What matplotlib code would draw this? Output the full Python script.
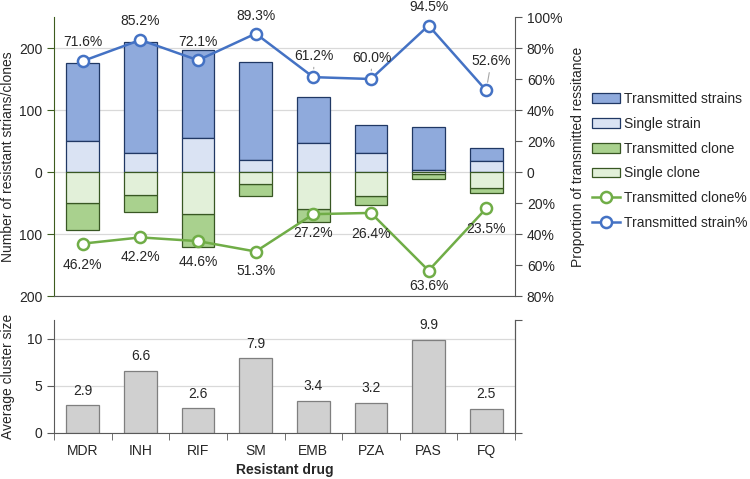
import numpy as np
import matplotlib

matplotlib.use("Agg")
import matplotlib.pyplot as plt
from matplotlib.ticker import FuncFormatter

plt.rcParams["font.family"] = ["Liberation Sans", "DejaVu Sans"]
plt.rcParams["font.size"] = 10
plt.rcParams["text.color"] = "#262626"
plt.rcParams["axes.labelcolor"] = "#262626"
plt.rcParams["xtick.color"] = "#262626"
plt.rcParams["ytick.color"] = "#262626"

drugs = ["MDR", "INH", "RIF", "SM", "EMB", "PZA", "PAS", "FQ"]
transmitted_strains = [126, 178, 142, 158, 74, 45, 69, 20]
single_strain = [50, 31, 55, 19, 47, 30, 4, 18]
transmitted_clone = [43, 27, 54, 20, 22, 14, 7, 8]
single_clone = [50, 37, 67, 19, 59, 39, 4, 26]
strain_pct = [71.6, 85.2, 72.1, 89.3, 61.2, 60.0, 94.5, 52.6]
clone_pct = [46.2, 42.2, 44.6, 51.3, 27.2, 26.4, 63.6, 23.5]
cluster_size = [2.9, 6.6, 2.6, 7.9, 3.4, 3.2, 9.9, 2.5]

# label offsets in pixels (dx, dy) and whether a leader line is drawn
strain_off = [(0, 19), (0, 19), (0, 18), (0, 18), (1, 21), (1, 21), (0, 19), (5, 29)]
strain_leader = [False, False, False, False, True, True, False, True]
clone_off = [(0, -21), (0, -20), (0, -21), (0, -19), (0, -19), (0, -21), (0, -15), (0, -21)]

C_TS, C_SS = "#8FAADC", "#DAE3F3"
C_TC, C_SC = "#A9D18E", "#E2F0D9"
E_BLUE, E_GREEN = "#203864", "#385723"
L_BLUE, L_GREEN = "#4472C4", "#70AD47"
GRID = "#D9D9D9"
SPINE = "#595959"

fig = plt.figure(figsize=(7.5, 4.79), dpi=100)
W, H = 750.0, 479.0
x0, x1 = 54, 515
ax = fig.add_axes([x0 / W, 1 - 296 / H, (x1 - x0) / W, (296 - 17) / H])
axb = fig.add_axes([x0 / W, 1 - 432.5 / H, (x1 - x0) / W, (432.5 - 320) / H])

x = np.arange(len(drugs))
bw = 0.57
ss = np.array(single_strain)
ts = np.array(transmitted_strains)
sc = np.array(single_clone)
tc = np.array(transmitted_clone)

ax.bar(x, ts, bw, bottom=ss, color=C_TS, edgecolor=E_BLUE, lw=0.9,
       label="Transmitted strains", zorder=2)
ax.bar(x, ss, bw, color=C_SS, edgecolor=E_BLUE, lw=0.9,
       label="Single strain", zorder=2)
ax.bar(x, -tc, bw, bottom=-sc, color=C_TC, edgecolor=E_GREEN, lw=0.9,
       label="Transmitted clone", zorder=2)
ax.bar(x, -sc, bw, color=C_SC, edgecolor=E_GREEN, lw=0.9,
       label="Single clone", zorder=2)

ax.set_xlim(-0.5, len(drugs) - 0.5)
ax.set_ylim(-200, 250)
ax.set_yticks([-200, -100, 0, 100, 200])
ax.yaxis.set_major_formatter(FuncFormatter(lambda v, p: "%d" % abs(v)))
ax.set_xticks([])
ax.grid(axis="y", color=GRID, lw=0.9, zorder=0)
ax.set_axisbelow(True)
ax.spines["top"].set_visible(False)
ax.spines["right"].set_visible(False)
ax.spines["left"].set_color("#3D5C1F")
ax.spines["bottom"].set_color(SPINE)
ax.tick_params(axis="y", colors="#3D5C1F", labelcolor="#262626", length=5)
ax.set_ylabel("Number of resistant strians/clones")
ax.yaxis.set_label_coords(-0.084, 0.5)

ax2 = ax.twinx()
ax2.set_ylim(-0.8, 1.0)
ax2.set_yticks(np.arange(-0.8, 1.01, 0.2))
ax2.yaxis.set_major_formatter(
    FuncFormatter(lambda v, p: "0" if abs(v) < 1e-9 else "%d%%" % round(abs(v) * 100)))
ax2.spines["top"].set_visible(False)
ax2.spines["left"].set_visible(False)
ax2.spines["bottom"].set_visible(False)
ax2.spines["right"].set_color(SPINE)
ax2.tick_params(axis="y", colors=SPINE, labelcolor="#262626", length=5)
ax2.set_ylabel("Proportion of transmitted ressitance")
ax2.yaxis.set_label_coords(1.122, 0.5)

sp = np.array(strain_pct) / 100
cp = -np.array(clone_pct) / 100
ax2.plot(x, cp, "-o", color=L_GREEN, lw=1.8, ms=8, mfc="white", mew=1.8,
         label="Transmitted clone%", zorder=3)
ax2.plot(x, sp, "-o", color=L_BLUE, lw=1.8, ms=8, mfc="white", mew=1.8,
         label="Transmitted strain%", zorder=3)

px2pt = 0.72
for i in range(len(drugs)):
    dx, dy = strain_off[i]
    arrow = None
    if strain_leader[i]:
        arrow = dict(arrowstyle="-", color="#A6A6A6", lw=0.8, shrinkA=1, shrinkB=6)
    ax2.annotate("%.1f%%" % strain_pct[i], (x[i], sp[i]),
                 xytext=(dx * px2pt, dy * px2pt), textcoords="offset points",
                 ha="center", va="center", arrowprops=arrow, zorder=4)
    dx, dy = clone_off[i]
    ax2.annotate("%.1f%%" % clone_pct[i], (x[i], cp[i]),
                 xytext=(dx * px2pt, dy * px2pt), textcoords="offset points",
                 ha="center", va="center", zorder=4)

# bottom panel
axb.bar(x, cluster_size, bw, color="#D0D0D0", edgecolor="#7F7F7F", lw=0.9, zorder=2)
for i, v in enumerate(cluster_size):
    axb.annotate("%.1f" % v, (x[i], v), xytext=(0, 10.5), textcoords="offset points",
                 ha="center", va="center")
axb.set_xlim(-0.5, len(drugs) - 0.5)
axb.set_ylim(0, 12)
axb.set_yticks([0, 5, 10])
axb.grid(axis="y", color=GRID, lw=0.9, zorder=0)
axb.set_axisbelow(True)
axb.set_xticks(x)
axb.set_xticklabels(drugs)
axb.set_xticks(np.arange(-0.5, len(drugs)), minor=True)
axb.tick_params(axis="x", which="major", length=0, pad=8)
axb.tick_params(axis="x", which="minor", length=5, colors=SPINE)
axb.tick_params(axis="y", length=5, colors=SPINE, labelcolor="#262626")
axb.spines["top"].set_visible(False)
axb.spines["right"].set_color(SPINE)
axb.spines["left"].set_color(SPINE)
axb.spines["bottom"].set_color(SPINE)
axb.set_ylabel("Average cluster size")
axb.yaxis.set_label_coords(-0.084, 0.5)
axb.set_xlabel("Resistant drug", fontweight="bold", labelpad=4)

axb2 = axb.twinx()
axb2.set_ylim(0, 12)
axb2.set_yticks([0, 12])
axb2.set_yticklabels([])
axb2.tick_params(axis="y", length=5, colors=SPINE)
for s in ("top", "left", "bottom"):
    axb2.spines[s].set_visible(False)
axb2.spines["right"].set_color(SPINE)

h1, l1 = ax.get_legend_handles_labels()
h2, l2 = ax2.get_legend_handles_labels()
fig.legend(h1 + h2, l1 + l2, loc="upper left", bbox_to_anchor=(0.789, 0.808),
           frameon=False, borderpad=0, borderaxespad=0, handlelength=2.0,
           handletextpad=0.3, labelspacing=0.78)

fig.savefig("out.png", dpi=100)
